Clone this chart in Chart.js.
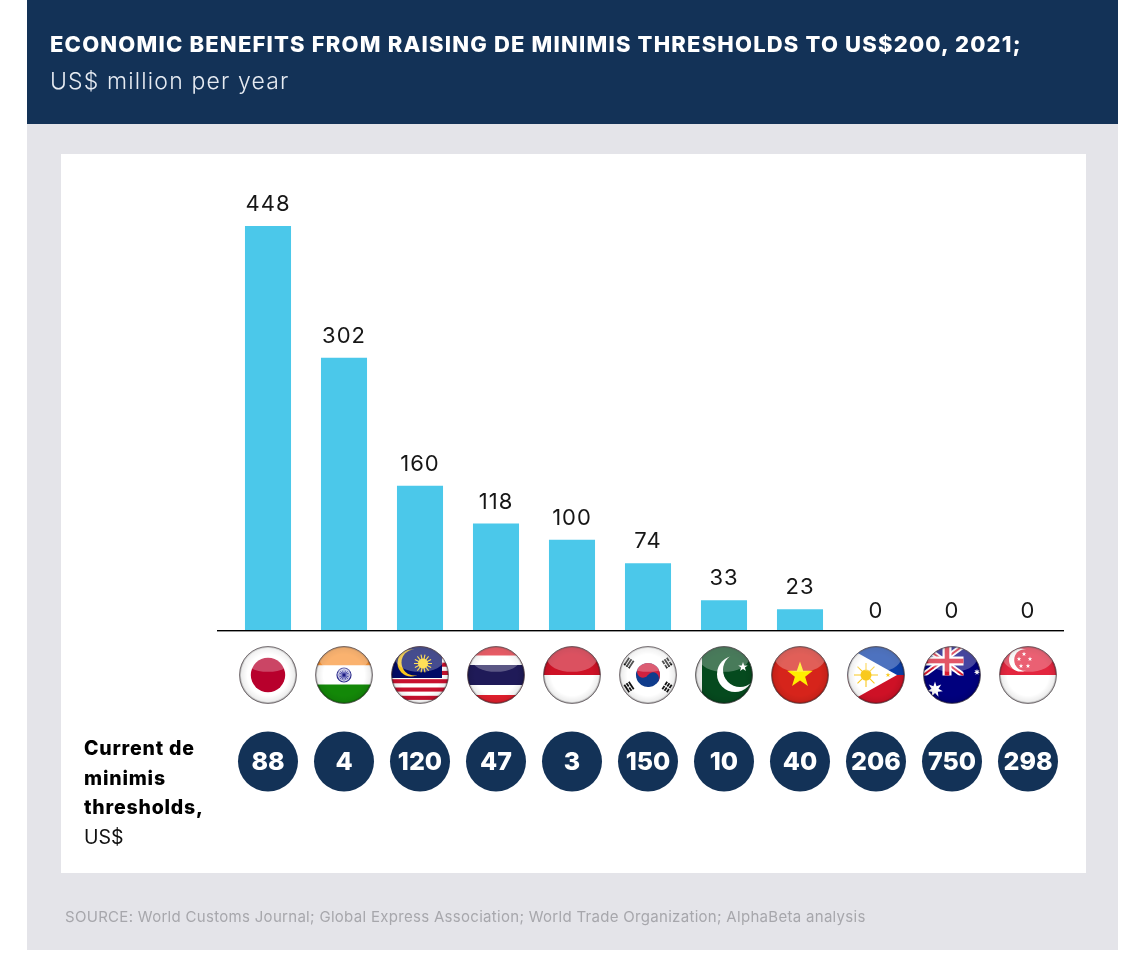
<!DOCTYPE html>
<html>
<head>
<meta charset="utf-8">
<title>De minimis thresholds</title>
<script src="https://cdn.jsdelivr.net/npm/chart.js@4/dist/chart.umd.min.js"></script>
<style>
  html, body { margin: 0; padding: 0; background: #fff; }
  body { width: 1129px; height: 955px; position: relative; overflow: hidden; font-family: Inter, sans-serif; }
  #panel { position: absolute; left: 27px; top: 0; width: 1091px; height: 950px; background: #e4e4e9; }
  #header { position: absolute; left: 27px; top: 0; width: 1091px; height: 124px; background: #133257; }
  #card { position: absolute; left: 61px; top: 154px; width: 1025px; height: 719px; background: #fff; }
  canvas { position: absolute; left: 0; top: 0; }
  .txt { position: absolute; white-space: nowrap; }
  #title { left: 50px; top: 30px; font-size: 22px; line-height: 28px; font-weight: 800; color: #fff; letter-spacing: 1.18px; }
  #subtitle { left: 50px; top: 67px; font-size: 23px; line-height: 28px; font-weight: 300; color: #e6ebf2; letter-spacing: 1.15px; }
  #source { left: 65px; top: 907px; font-size: 15px; line-height: 20px; font-weight: 400; color: #a7a7ac; letter-spacing: 0.3px; }
  #caption { left: 84px; top: 734px; font-size: 19.5px; line-height: 29.5px; font-weight: 800; color: #000; letter-spacing: 0.8px; }
  #caption span { font-weight: 400; color: #111; letter-spacing: 0; }
</style>
</head>
<body>
<div id="panel"></div>
<div id="header"></div>
<div id="card"></div>
<canvas id="chart" width="1129" height="955"></canvas>
<div class="txt" id="title">ECONOMIC BENEFITS FROM RAISING DE MINIMIS THRESHOLDS TO US$200, 2021;</div>
<div class="txt" id="subtitle">US$ million per year</div>
<div class="txt" id="caption">Current de<br>minimis<br>thresholds,<br><span>US$</span></div>
<div class="txt" id="source">SOURCE: World Customs Journal; Global Express Association; World Trade Organization; AlphaBeta analysis</div>

<script>
const countries = ['Japan', 'India', 'Malaysia', 'Thailand', 'Indonesia', 'South Korea',
                   'Pakistan', 'Vietnam', 'Philippines', 'Australia', 'Singapore'];
const benefits = [448, 302, 160, 118, 100, 74, 33, 23, 0, 0, 0];
const thresholds = [88, 4, 120, 47, 3, 150, 10, 40, 206, 750, 298];

const BAR_BLUE = '#4bc8ea';
const NAVY = '#133257';

// Five-pointed star centred on (x, y)
function star(c, x, y, R, fill, points = 5, inner = 0.4, rot = -Math.PI / 2) {
  c.beginPath();
  for (let i = 0; i < points * 2; i++) {
    const rad = i % 2 ? R * inner : R;
    const a = rot + i * Math.PI / points;
    c.lineTo(x + rad * Math.cos(a), y + rad * Math.sin(a));
  }
  c.closePath();
  c.fillStyle = fill;
  c.fill();
}
function disc(c, x, y, r, fill) {
  c.beginPath();
  c.arc(x, y, r, 0, Math.PI * 2);
  c.fillStyle = fill;
  c.fill();
}
function rect(c, x, y, w, h, fill) {
  c.fillStyle = fill;
  c.fillRect(x, y, w, h);
}
function sun(c, x, y, r, rays, rayLen, fill) {
  c.strokeStyle = fill;
  c.lineWidth = 1.1;
  for (let i = 0; i < rays; i++) {
    const a = i * 2 * Math.PI / rays;
    c.beginPath();
    c.moveTo(x + r * 0.7 * Math.cos(a), y + r * 0.7 * Math.sin(a));
    c.lineTo(x + (r + rayLen) * Math.cos(a), y + (r + rayLen) * Math.sin(a));
    c.stroke();
  }
  disc(c, x, y, r, fill);
}
function trigram(c, x, y, angle, breaks) {
  c.save();
  c.translate(x, y);
  c.rotate(angle);
  breaks.forEach((broken, i) => {
    const by = -3.6 + i * 2.7;
    if (broken) {
      rect(c, -4.4, by, 3.9, 1.8, '#111');
      rect(c, 0.5, by, 3.9, 1.8, '#111');
    } else {
      rect(c, -4.4, by, 8.8, 1.8, '#111');
    }
  });
  c.restore();
}

// Flag artwork, each painted around the origin inside a disc of radius 29
const flagPainters = {
  Japan(c) {
    rect(c, -29, -29, 58, 58, '#ffffff');
    disc(c, 0, 0, 17.2, '#b8002c');
  },
  India(c) {
    rect(c, -29, -29, 58, 19.5, '#f9963a');
    rect(c, -29, -9.5, 58, 19, '#ffffff');
    rect(c, -29, 9.5, 58, 20, '#138808');
    c.beginPath();
    c.arc(0, 0, 7, 0, Math.PI * 2);
    c.strokeStyle = '#2a2a8c';
    c.lineWidth = 1.2;
    c.stroke();
    sun(c, 0, 0, 1.5, 16, 4.5, '#5a5ab0');
    disc(c, 0, 0, 1.5, '#1c1c80');
  },
  Malaysia(c) {
    rect(c, -29, -29, 58, 58, '#ffffff');
    for (let i = 0; i < 7; i++) rect(c, -29, -29 + i * 8.3, 58, 4.1, '#c8102e');
    rect(c, -29, -29, 51, 32, '#010a66');
    disc(c, -9, -12, 13.5, '#f7c61c');
    disc(c, -5.5, -12.5, 13, '#010a66');
    sun(c, 3, -11.5, 5, 14, 4, '#ffd31a');
  },
  Thailand(c) {
    rect(c, -29, -29, 58, 58, '#e01f2d');
    rect(c, -29, -19.5, 58, 39.5, '#ffffff');
    rect(c, -29, -10, 58, 20, '#1f1a58');
  },
  Indonesia(c) {
    rect(c, -29, -29, 58, 29, '#ce1126');
    rect(c, -29, 0, 58, 29, '#ffffff');
  },
  'South Korea'(c) {
    rect(c, -29, -29, 58, 58, '#ffffff');
    const a = Math.atan2(2, 3);
    c.save();
    c.rotate(a);
    disc(c, 0, 0, 12, '#0f3c8c');
    c.beginPath();
    c.arc(0, 0, 12, Math.PI, 0);
    c.closePath();
    c.fillStyle = '#d0213f';
    c.fill();
    disc(c, -6, 0, 6, '#d0213f');
    disc(c, 6, 0, 6, '#0f3c8c');
    c.restore();
    trigram(c, -19, -12, -0.98, [0, 0, 0]);
    trigram(c, 19, 12, -0.98, [1, 1, 1]);
    trigram(c, 19, -12, 0.98, [1, 0, 1]);
    trigram(c, -19, 12, 0.98, [0, 1, 0]);
  },
  Pakistan(c) {
    rect(c, -29, -29, 58, 58, '#054a1e');
    rect(c, -29, -29, 7, 58, '#f4f4f4');
    disc(c, 11, -1, 18, '#ffffff');
    disc(c, 16, -5, 17, '#054a1e');
    star(c, 19, -8, 5, '#ffffff');
  },
  Vietnam(c) {
    rect(c, -29, -29, 58, 58, '#d6241b');
    star(c, 0, 0, 13.5, '#ffee00');
  },
  Philippines(c) {
    rect(c, -29, -29, 58, 29, '#0b3ea8');
    rect(c, -29, 0, 58, 29, '#ce1126');
    c.beginPath();
    c.moveTo(-31, -29);
    c.lineTo(21, 0);
    c.lineTo(-31, 29);
    c.closePath();
    c.fillStyle = '#ffffff';
    c.fill();
    sun(c, -10, 0, 5.5, 8, 6.5, '#f9c91e');
    star(c, 12, 0, 2.6, '#f9c91e');
  },
  Australia(c) {
    rect(c, -29, -29, 58, 58, '#00007e');
    c.save();
    c.beginPath();
    c.rect(-29, -29, 40.5, 29.5);
    c.clip();
    c.lineCap = 'butt';
    [[-30, -30, 12], [12, -30, -30]].forEach(([x0, y0, x1]) => {
      c.beginPath();
      c.moveTo(x0, y0);
      c.lineTo(x1, 1);
      c.strokeStyle = '#ffffff';
      c.lineWidth = 5.5;
      c.stroke();
      c.strokeStyle = '#d8182e';
      c.lineWidth = 1.9;
      c.stroke();
    });
    rect(c, -9.5, -29, 9, 30, '#ffffff');
    rect(c, -29, -18.5, 41, 9, '#ffffff');
    rect(c, -7.3, -29, 4.6, 30, '#d8182e');
    rect(c, -29, -16.3, 41, 4.6, '#d8182e');
    c.restore();
    star(c, -17, 14.5, 8, '#ffffff', 7, 0.45);
    star(c, 25, -3, 3.2, '#ffffff', 7, 0.45);
  },
  Singapore(c) {
    rect(c, -29, -29, 58, 29, '#e3263f');
    rect(c, -29, 0, 58, 29, '#ffffff');
    disc(c, -7.5, -15, 11.5, '#ffffff');
    disc(c, -3, -15, 10.8, '#e3263f');
    [[-5, -21], [1, -16], [-10, -16], [-1, -9], [-8, -9]].forEach(([x, y]) =>
      star(c, x + 1, y, 2.4, '#ffffff'));
  }
};

// Glossy badge: flag, rim shading, upper highlight and a thin outline
function drawFlag(c, name, x, y, r) {
  c.save();
  c.translate(x, y);
  c.save();
  c.beginPath();
  c.arc(0, 0, r, 0, Math.PI * 2);
  c.clip();
  flagPainters[name](c);
  const rim = c.createRadialGradient(0, 0, r * 0.72, 0, 0, r);
  rim.addColorStop(0, 'rgba(0,0,0,0)');
  rim.addColorStop(0.75, 'rgba(0,0,0,0.07)');
  rim.addColorStop(1, 'rgba(0,0,0,0.42)');
  c.fillStyle = rim;
  c.fillRect(-r, -r, 2 * r, 2 * r);
  c.beginPath();
  c.ellipse(0, -r * 0.55, r * 0.86, r * 0.44, 0, 0, Math.PI * 2);
  c.fillStyle = 'rgba(255,255,255,0.27)';
  c.fill();
  c.restore();
  c.beginPath();
  c.arc(0, 0, r, 0, Math.PI * 2);
  c.strokeStyle = 'rgba(90,80,85,0.75)';
  c.lineWidth = 1;
  c.stroke();
  c.restore();
}

// Baseline, value labels, flag row and threshold badges, all placed from the chart scales
const annotations = {
  id: 'annotations',
  afterDatasetsDraw(chart) {
    const { ctx: c, scales: { x, y } } = chart;
    const base = y.getPixelForValue(0);
    c.save();
    c.fillStyle = '#000';
    c.fillRect(217, Math.round(base), 847, 1.4);

    c.textAlign = 'center';
    c.textBaseline = 'middle';
    benefits.forEach((v, i) => {
      const cx = x.getPixelForValue(i);
      const top = y.getPixelForValue(v);
      c.font = '400 22px Inter, sans-serif';
      c.letterSpacing = '1px';
      c.fillStyle = '#161616';
      c.fillText(String(v), cx, top - (v === 0 ? 18.5 : 21.5));
      c.letterSpacing = '0px';

      drawFlag(c, countries[i], cx, base + 45, 28.5);

      c.beginPath();
      c.arc(cx, base + 131.5, 30, 0, Math.PI * 2);
      c.fillStyle = NAVY;
      c.fill();
      c.font = '800 25px Inter, sans-serif';
      c.fillStyle = '#fff';
      c.fillText(String(thresholds[i]), cx, base + 132.5);
    });
    c.restore();
  }
};

new Chart(document.getElementById('chart'), {
  type: 'bar',
  data: {
    labels: countries,
    datasets: [{
      data: benefits,
      backgroundColor: BAR_BLUE,
      borderWidth: 0,
      categoryPercentage: 1,
      barPercentage: 0.606
    }]
  },
  options: {
    responsive: false,
    animation: false,
    layout: { padding: { left: 230, right: 63, top: 226, bottom: 325 } },
    plugins: { legend: { display: false }, tooltip: { enabled: false }, title: { display: false } },
    scales: {
      x: { display: false },
      y: { display: false, min: 0, max: 448 }
    }
  },
  plugins: [annotations]
});
</script>
</body>
</html>
